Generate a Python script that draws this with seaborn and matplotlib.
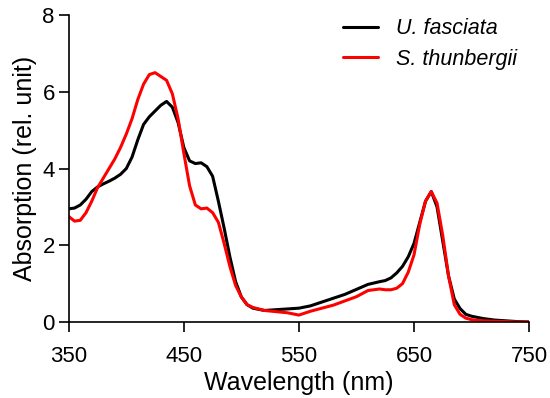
import pandas as pd
import numpy as np
import seaborn as sns
from matplotlib import pyplot as plt

wavelength = [350, 355, 360, 365, 370, 375, 380, 385, 390, 395, 400, 405, 410, 415, 420,
              425, 430, 435, 440, 445, 450, 455, 460, 465, 470, 475, 480, 485, 490, 495,
              500, 505, 510, 520, 530, 540, 550, 560, 570, 580, 590, 600, 610, 620, 625,
              630, 635, 640, 645, 650, 655, 660, 665, 670, 675, 680, 685, 690, 695, 700,
              710, 720, 730, 740, 750]
u_fasciata = [2.95, 2.97, 3.05, 3.2, 3.4, 3.52, 3.6, 3.67, 3.75, 3.85, 4.0, 4.3, 4.75, 5.15, 5.35,
              5.5, 5.65, 5.75, 5.6, 5.2, 4.55, 4.2, 4.13, 4.15, 4.05, 3.8, 3.15, 2.45, 1.7, 1.05,
              0.65, 0.45, 0.36, 0.3, 0.32, 0.34, 0.36, 0.42, 0.52, 0.62, 0.72, 0.85, 0.98, 1.05, 1.08,
              1.15, 1.28, 1.45, 1.7, 2.05, 2.6, 3.15, 3.4, 3.0, 2.1, 1.2, 0.6, 0.35, 0.2, 0.15,
              0.09, 0.05, 0.03, 0.01, 0.0]
s_thunbergii = [2.75, 2.63, 2.65, 2.85, 3.15, 3.5, 3.75, 4.0, 4.25, 4.55, 4.9, 5.3, 5.8, 6.2, 6.45,
                6.5, 6.4, 6.3, 5.95, 5.3, 4.4, 3.55, 3.05, 2.95, 2.97, 2.85, 2.6, 2.05, 1.45, 0.95,
                0.65, 0.45, 0.38, 0.3, 0.27, 0.24, 0.18, 0.28, 0.36, 0.44, 0.55, 0.66, 0.82, 0.86, 0.84,
                0.84, 0.88, 1.0, 1.3, 1.75, 2.55, 3.15, 3.4, 3.1, 2.25, 1.2, 0.45, 0.2, 0.1, 0.06,
                0.03, 0.02, 0.01, 0.0, 0.0]
species = ['U. fasciata', 'S. thunbergii']

df = pd.concat([
    pd.DataFrame({'wl': wavelength, 'abs': u_fasciata, 'sp': species[0]}),
    pd.DataFrame({'wl': wavelength, 'abs': s_thunbergii, 'sp': species[1]}),
])

sns.set_style('ticks')
plt.rcParams['font.family'] = ['Liberation Sans', 'DejaVu Sans']
plt.rcParams['text.color'] = 'black'
plt.rcParams['axes.labelcolor'] = 'black'

fig = plt.figure(figsize=(5.5, 3.98), dpi=100)
ax = fig.add_axes([0.125, 0.191, 0.837, 0.771])
sns.lineplot(data=df, x='wl', y='abs', hue='sp', palette=['black', 'red'],
             linewidth=2.2, ax=ax)

ax.set_xlim(350, 750)
ax.set_ylim(0, 8)
ax.set_xticks([350, 450, 550, 650, 750])
ax.set_yticks([0, 2, 4, 6, 8])
ax.set_xlabel('Wavelength (nm)', fontsize=18, labelpad=3)
ax.set_ylabel('Absorption (rel. unit)', fontsize=18, labelpad=4)
ax.tick_params(axis='x', direction='out', labelsize=16, length=7, width=1.2,
               color='black', labelcolor='black', pad=10)
ax.tick_params(axis='y', direction='out', labelsize=16, length=7, width=1.2,
               color='black', labelcolor='black', pad=3)
sns.despine(ax=ax)
for s in ['left', 'bottom']:
    ax.spines[s].set_linewidth(1.2)
    ax.spines[s].set_color('black')

leg = ax.legend(frameon=False, fontsize=15.5, loc='upper left', bbox_to_anchor=(0.596, 0.99),
                borderaxespad=0, borderpad=0, handlelength=1.6, handletextpad=0.85,
                labelspacing=0.45)
for t in leg.get_texts():
    t.set_fontstyle('italic')
    t.set_color('black')

fig.savefig('out.png', dpi=100)
